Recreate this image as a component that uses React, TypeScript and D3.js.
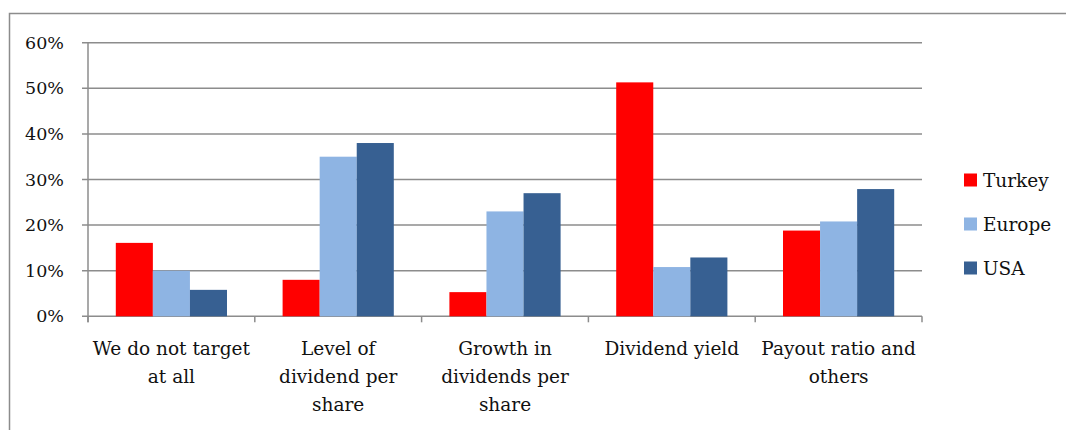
import React from "react";
import * as d3 from "d3";

const categories = [
  ["We do not target", "at all"],
  ["Level of", "dividend per", "share"],
  ["Growth in", "dividends per", "share"],
  ["Dividend yield"],
  ["Payout ratio and", "others"],
];
const seriesNames = ["Turkey", "Europe", "USA"];
const turkey = [16.1, 8, 5.3, 51.3, 18.8];
const europe = [10, 35, 23, 10.8, 20.8];
const usa = [5.8, 38, 27, 12.9, 27.9];
const yTicks = [0, 10, 20, 30, 40, 50, 60];

const colors = ["#FF0000", "#8EB4E3", "#376092"];
const series = [turkey, europe, usa];

const W = 1066;
const H = 430;
const left = 88;
const right = 922;
const top = 42.7;
const bottom = 316.3;
const font = "'DejaVu Serif', serif";
const grid = "#8C8C8C";
const ink = "#111";

export default function App() {
  const x0 = d3
    .scaleBand<number>()
    .domain(categories.map((_, i) => i))
    .range([left, right])
    .padding(0);
  const bw = x0.bandwidth();
  const x1 = d3
    .scaleBand<number>()
    .domain(seriesNames.map((_, i) => i))
    .range([bw / 6, (bw * 5) / 6])
    .padding(0);
  const y = d3.scaleLinear().domain([0, 60]).range([bottom, top]);

  const tickXs = categories.map((_, i) => x0(i)!).concat([right]);

  return (
    <svg
      width={W}
      height={H}
      style={{ position: "absolute", left: 0, top: 0, background: "#fff" }}
    >
      <rect x={9.5} y={13.5} width={W + 20} height={H + 20} fill="#fff" stroke={grid} strokeWidth={1.5} />
      {yTicks.map((t) => (
        <g key={t}>
          <line x1={left - 6} x2={right} y1={y(t)} y2={y(t)} stroke={grid} strokeWidth={1.5} />
          <text x={64} y={y(t) + 6} textAnchor="end" fontFamily={font} fontSize={17.5} fill={ink}>
            {t}%
          </text>
        </g>
      ))}
      <line x1={left} x2={left} y1={top} y2={bottom + 6} stroke={grid} strokeWidth={1.5} />
      {tickXs.map((tx, i) => (
        <line key={i} x1={tx} x2={tx} y1={bottom} y2={bottom + 6} stroke={grid} strokeWidth={1.5} />
      ))}
      {categories.map((_, ci) =>
        series.map((vals, si) => (
          <rect
            key={`${ci}-${si}`}
            x={x0(ci)! + x1(si)!}
            y={y(vals[ci])}
            width={x1.bandwidth()}
            height={bottom - y(vals[ci])}
            fill={colors[si]}
          />
        ))
      )}
      {categories.map((lines, ci) => (
        <text key={ci} textAnchor="middle" fontFamily={font} fontSize={18.5} fill={ink}>
          {lines.map((ln, li) => (
            <tspan key={li} x={x0(ci)! + bw / 2} y={355 + li * 28}>
              {ln}
            </tspan>
          ))}
        </text>
      ))}
      {seriesNames.map((name, i) => (
        <g key={name} transform={`translate(964, ${180 + i * 44})`}>
          <rect x={0} y={-6.5} width={13} height={13} fill={colors[i]} />
          <text x={19} y={6.5} fontFamily={font} fontSize={18.5} fill={ink}>
            {name}
          </text>
        </g>
      ))}
    </svg>
  );
}
